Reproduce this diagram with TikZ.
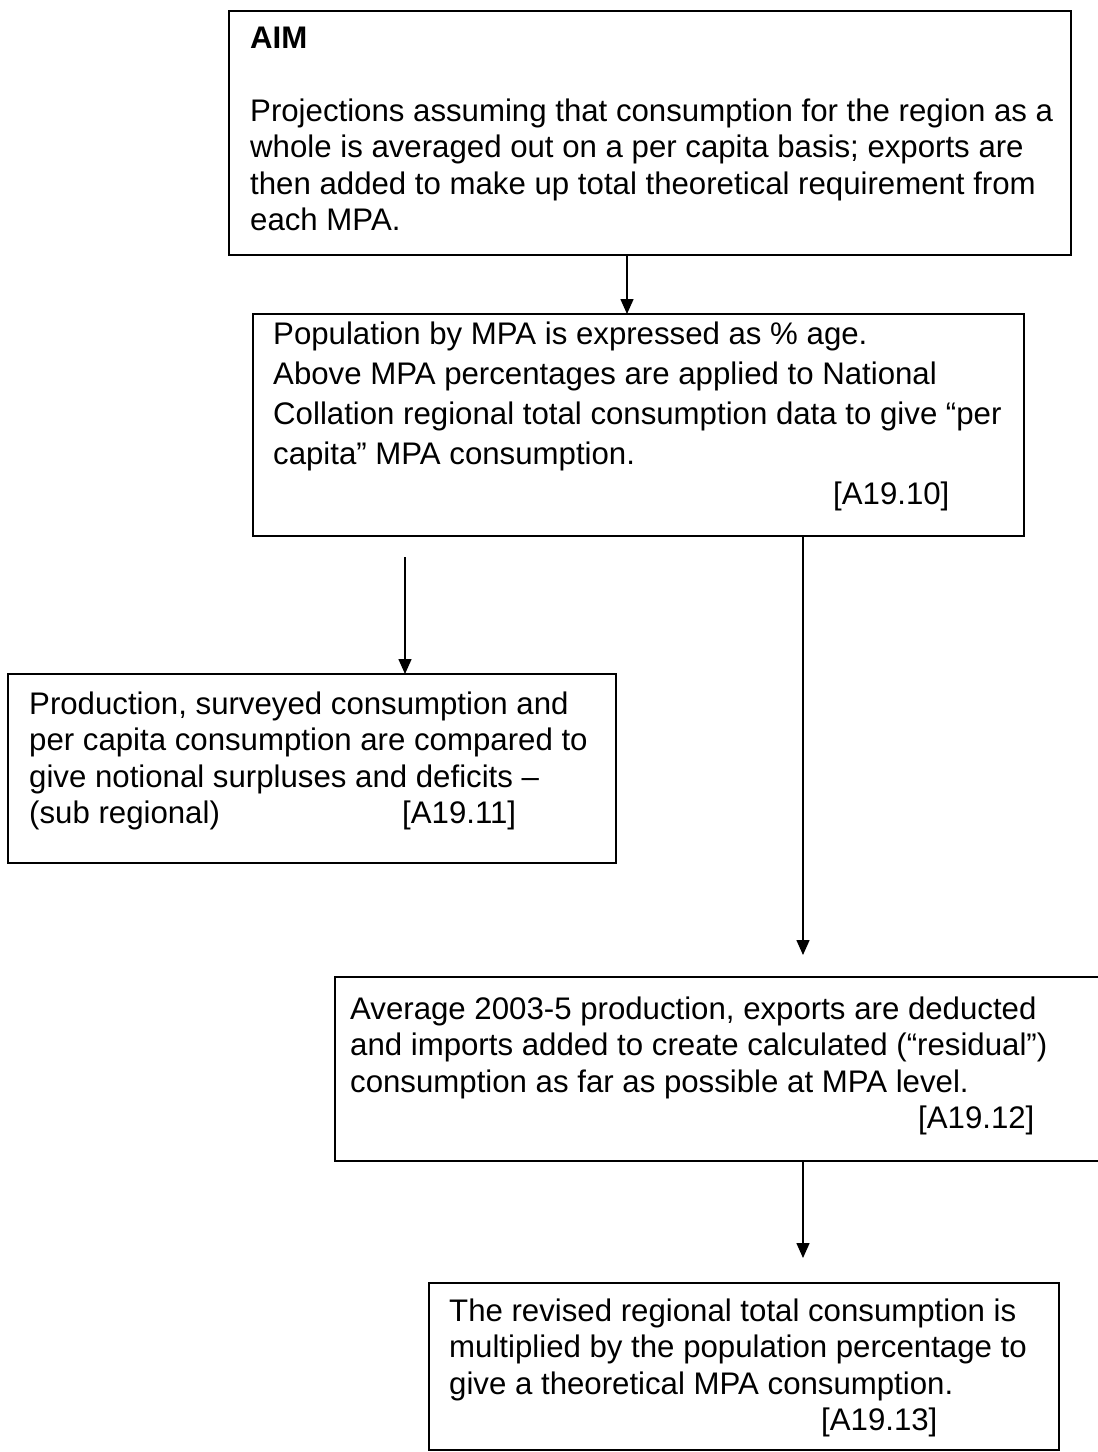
\documentclass[tikz,border=0pt]{standalone}
\usepackage{fontspec}
\setmainfont{Liberation Sans}
\usetikzlibrary{arrows.meta}
\begin{document}
\begin{tikzpicture}[x=1pt,y=-1pt,
  boxstyle/.style={draw, line width=1.8pt, rectangle, inner sep=0pt, outer sep=0pt, anchor=north west},
  txt/.style={anchor=north west, inner sep=0pt, align=left, font=\fontsize{31.2}{36.5}\selectfont},
  widetxt/.style={txt, font=\fontsize{31.2}{40}\selectfont},
  arr/.style={line width=1.5pt, -{Triangle[length=15pt,width=13pt]}}]
\useasboundingbox (0,0) rectangle (1098,1452);
% boxes
\node[boxstyle, minimum width=842pt, minimum height=244pt] (b1) at (229,11) {};
\node[boxstyle, minimum width=771pt, minimum height=222pt] (b2) at (253,314) {};
\node[boxstyle, minimum width=608pt, minimum height=189pt] (b3) at (8,674) {};
\node[boxstyle, minimum width=775pt, minimum height=184pt] (b4) at (335,977) {};
\node[boxstyle, minimum width=630pt, minimum height=167pt] (b5) at (429,1283) {};
% texts
\node[txt] (t1) at (250,26.5) {\textbf{AIM}\\[36.5pt]Projections assuming that consumption for the region as a\\whole is averaged out on a per capita basis; exports are\\then added to make up total theoretical requirement from\\each MPA.};
\node[widetxt] (t2) at (273,321.5) {Population by MPA is expressed as \% age.\\Above MPA percentages are applied to National\\Collation regional total consumption data to give “per\\capita” MPA consumption.\\\hspace*{560pt}[A19.10]};
\node[txt] (t3) at (29,691.5) {Production, surveyed consumption and\\per capita consumption are compared to\\give notional surpluses and deficits –\\\makebox[373pt][l]{(sub regional)}[A19.11]};
\node[txt] (t4) at (350,996.5) {Average 2003-5 production, exports are deducted\\and imports added to create calculated (“residual”)\\consumption as far as possible at MPA level.\\\hspace*{568pt}[A19.12]};
\node[txt] (t5) at (449,1298.5) {The revised regional total consumption is\\multiplied by the population percentage to\\give a theoretical MPA consumption.\\\hspace*{372pt}[A19.13]};
% connectors
\coordinate (c1) at (627,0);
\coordinate (c2) at (405,557);
\coordinate (c3) at (803,0);
\draw[arr] (c1 |- b1.south) -- (c1 |- b2.north);
\draw[arr] (c2) -- (c2 |- b3.north);
\draw[arr] (c3 |- b2.south) -- ([yshift=22pt]c3 |- b4.north);
\draw[arr] (c3 |- b4.south) -- ([yshift=25pt]c3 |- b5.north);
\end{tikzpicture}
\end{document}
